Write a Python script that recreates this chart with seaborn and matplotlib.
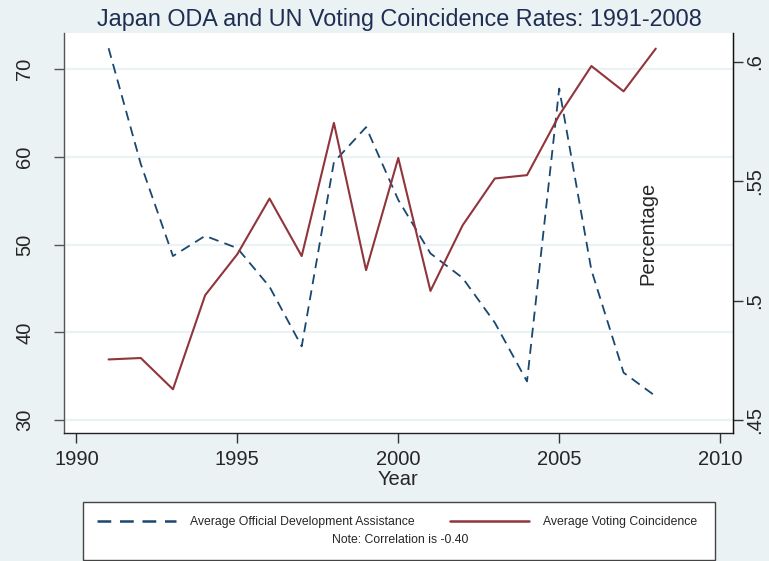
import matplotlib
matplotlib.use("Agg")
import matplotlib.pyplot as plt
from matplotlib.patches import Rectangle
from matplotlib.lines import Line2D
import seaborn as sns
import pandas as pd

# Japan ODA and UN voting coincidence, 1991-2008
years = [1991, 1992, 1993, 1994, 1995, 1996, 1997, 1998, 1999,
         2000, 2001, 2002, 2003, 2004, 2005, 2006, 2007, 2008]
oda = [72.4, 59.2, 48.7, 51.0, 49.6, 45.2, 38.4, 59.4, 63.4,
       55.1, 49.0, 46.2, 41.1, 34.4, 67.8, 47.1, 35.4, 32.7]
voting = [0.4754, 0.4760, 0.4629, 0.5023, 0.5195, 0.5428, 0.5187, 0.5745, 0.5128,
          0.5598, 0.5041, 0.5316, 0.5512, 0.5526, 0.5777, 0.5983, 0.5877, 0.6056]

x_ticks = [1990, 1995, 2000, 2005, 2010]
left_ticks = [30, 40, 50, 60, 70]
right_ticks = [0.45, 0.5, 0.55, 0.6]
right_labels = [".45", ".5", ".55", ".6"]

df = pd.DataFrame({"Year": years, "ODA": oda, "Voting": voting})

BG = "#EAF2F3"
NAVY = "#1A476F"
MAROON = "#90353B"
TITLE_C = "#1E2D52"

sns.set_style("white")
plt.rcParams["font.family"] = ["Liberation Sans", "DejaVu Sans"]

fig = plt.figure(figsize=(7.69, 5.61), dpi=100, facecolor=BG)
ax = fig.add_axes([0.0826, 0.2282, 0.8706, 0.7124])
ax.set_facecolor("white")
ax2 = ax.twinx()

sns.lineplot(data=df, x="Year", y="ODA", ax=ax, color=NAVY, lw=1.3,
             linestyle=(0, (5.5, 3.5)))
sns.lineplot(data=df, x="Year", y="Voting", ax=ax2, color=MAROON, lw=1.5)

ax.set_xlim(1989.6, 2010.4)
ax.set_ylim(28.52, 74.1)
ax2.set_ylim(0.4446, 0.612)

ax.set_xticks(x_ticks)
ax.set_yticks(left_ticks)
ax2.set_yticks(right_ticks)
ax2.set_yticklabels(right_labels)

ax.yaxis.grid(True, color=BG, lw=1.6)
ax.set_axisbelow(True)

for a in (ax, ax2):
    a.spines["top"].set_visible(False)
    a.set_xlabel("")
    a.set_ylabel("")
ax.spines["left"].set_color("#555555")
ax.spines["bottom"].set_color("#222222")
ax2.spines["right"].set_color("#111111")
ax2.spines["left"].set_visible(False)
ax2.spines["bottom"].set_visible(False)
for s in ("left", "bottom"):
    ax.spines[s].set_linewidth(1.0)
ax2.spines["right"].set_linewidth(1.0)

ax.tick_params(axis="x", direction="out", length=7, width=1, color="#333333",
               labelsize=14.5, pad=5, bottom=True)
ax.tick_params(axis="y", direction="out", length=7, width=1, color="#555555",
               labelsize=14.5, pad=14, left=True)
ax2.tick_params(axis="y", direction="out", length=7, width=1, color="#333333",
                labelsize=14.5, pad=2, right=True)
for lab in ax.get_yticklabels():
    lab.set_rotation(90)
    lab.set_va("center")
for lab in ax2.get_yticklabels():
    lab.set_rotation(90)
    lab.set_va("center")

ax.set_xlabel("Year", fontsize=14.5, labelpad=1)
ax.text(0.873, 0.5, "Percentage", transform=ax.transAxes, rotation=90,
        fontsize=14.5, ha="center", va="center")

fig.text(0.519, 1 - 26 / 561, "Japan ODA and UN Voting Coincidence Rates: 1991-2008",
         ha="center", va="baseline", fontsize=16.8, color=TITLE_C)

# legend box with the note below the keys
fig.patches.append(Rectangle((82.7 / 769, 1 - 560 / 561), (715 - 82.7) / 769,
                             (560 - 501.7) / 561, transform=fig.transFigure,
                             facecolor="white", edgecolor="#444444", lw=1.0))
handles = [Line2D([], [], color=NAVY, lw=1.8, linestyle=(0, (5.5, 3.5))),
           Line2D([], [], color=MAROON, lw=1.8)]
fig.legend(handles, ["Average Official Development Assistance", "Average Voting Coincidence"],
           loc="center", bbox_to_anchor=(397 / 769, 1 - 522 / 561), ncol=2,
           frameon=False, fontsize=8.8, handlelength=6.5, handletextpad=1.1,
           columnspacing=2.9)
fig.text(400 / 769, 1 - 540 / 561, "Note: Correlation is -0.40", ha="center",
         va="center", fontsize=8.8)

fig.savefig("out.png", dpi=100, facecolor=BG)
